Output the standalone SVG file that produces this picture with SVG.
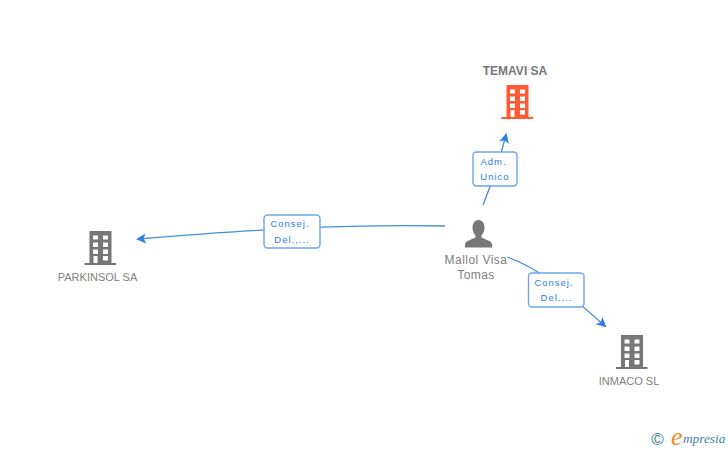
<svg xmlns="http://www.w3.org/2000/svg" width="728" height="450" viewBox="0 0 728 450">
<style>
.n{font-family:"Liberation Sans",Arial,sans-serif;font-size:11px;fill:#808080;text-anchor:middle}
.p{font-size:12px;letter-spacing:.45px}
.b{font-weight:bold;font-size:12px;fill:#777}
.l{font-family:"Liberation Sans",Arial,sans-serif;font-size:9.500px;fill:#2f7de1;text-anchor:middle;letter-spacing:1px}
.c{fill:none;stroke:#4a8ae6;stroke-width:1.300}
.box{fill:#fff;stroke:#6fa5ea;stroke-width:1.400}
</style>
<defs>
<marker id="a" viewBox="0 0 10 10" refX="8" refY="5" markerWidth="10" markerHeight="10" markerUnits="userSpaceOnUse" orient="auto"><path d="M0 0L10 5L0 10L2.500 5Z" fill="#2f7de1"/></marker>
<path id="bld" fill-rule="evenodd" d="M5 0H27V32H31.500V34H0V32H5ZM8.500 4.500V8.500H13.500V4.500ZM18.500 4.500V8.500H23.500V4.500ZM8.500 11.500V16H13.500V11.500ZM18.500 11.500V16H23.500V11.500ZM8.500 18.500V23H13.500V18.500ZM18.500 18.500V23H23.500V18.500ZM9 25V32H13V25ZM18.500 25V29.500H23.500V25Z"/>
</defs>
<g id="connectors">
<path class="c" marker-end="url(#a)" d="M483 205Q497 170 506 135"/>
<path class="c" marker-end="url(#a)" d="M445 226C340 224 250 230 138 239"/>
<path class="c" marker-end="url(#a)" d="M507 257C540 268 570 295 605 326"/>
</g>
<g id="edge-label-1"><rect class="box" x="473" y="152" width="44" height="34" rx="3.500"/><text class="l" x="493.500" y="165">Adm.</text><text class="l" x="495" y="180">Unico</text></g>
<g id="edge-label-2"><rect class="box" x="264" y="215" width="56" height="33" rx="3.500"/><text class="l" x="290" y="227">Consej.</text><text class="l" x="292" y="243">Del.,...</text></g>
<g id="edge-label-3"><rect class="box" x="528.500" y="273" width="55.500" height="34" rx="3.500"/><text class="l" x="554" y="286">Consej.</text><text class="l" x="556.500" y="301">Del....</text></g>
<g id="node-temavi"><text class="n b" x="515" y="75">TEMAVI SA</text><use href="#bld" x="501.500" y="85" fill="#ff5a33"/></g>
<g id="node-parkinsol"><use href="#bld" x="84.500" y="231" fill="#777"/><text class="n" x="97.500" y="281">PARKINSOL SA</text></g>
<g id="node-inmaco"><use href="#bld" x="616" y="335" fill="#777"/><text class="n" x="629" y="385">INMACO SL</text></g>
<g id="node-mallol"><path fill="#777" d="M478.500 220C474 220 472.500 224 472.500 228C472.500 231 474 234 475.500 235.500V237.500C471 240 466 240.500 465 244V247.500H492V244C491 240.500 486 240 481.500 237.500V235.500C483 234 484.500 231 484.500 228C484.500 224 483 220 478.500 220Z"/><text class="n p" x="476" y="264">Mallol Visa</text><text class="n p" x="476" y="279">Tomas</text></g>
<g id="watermark"><text x="657.500" y="444.500" font-family="Liberation Sans,sans-serif" font-size="17" fill="#3f7f9c" text-anchor="middle">©</text><text x="671" y="445" font-family="Liberation Serif,serif" font-style="italic" font-size="26" fill="#f08a24">e</text><text x="683" y="443" font-family="Liberation Serif,serif" font-style="italic" font-size="13.300" fill="#3f7f9c">mpresia</text></g>
</svg>
